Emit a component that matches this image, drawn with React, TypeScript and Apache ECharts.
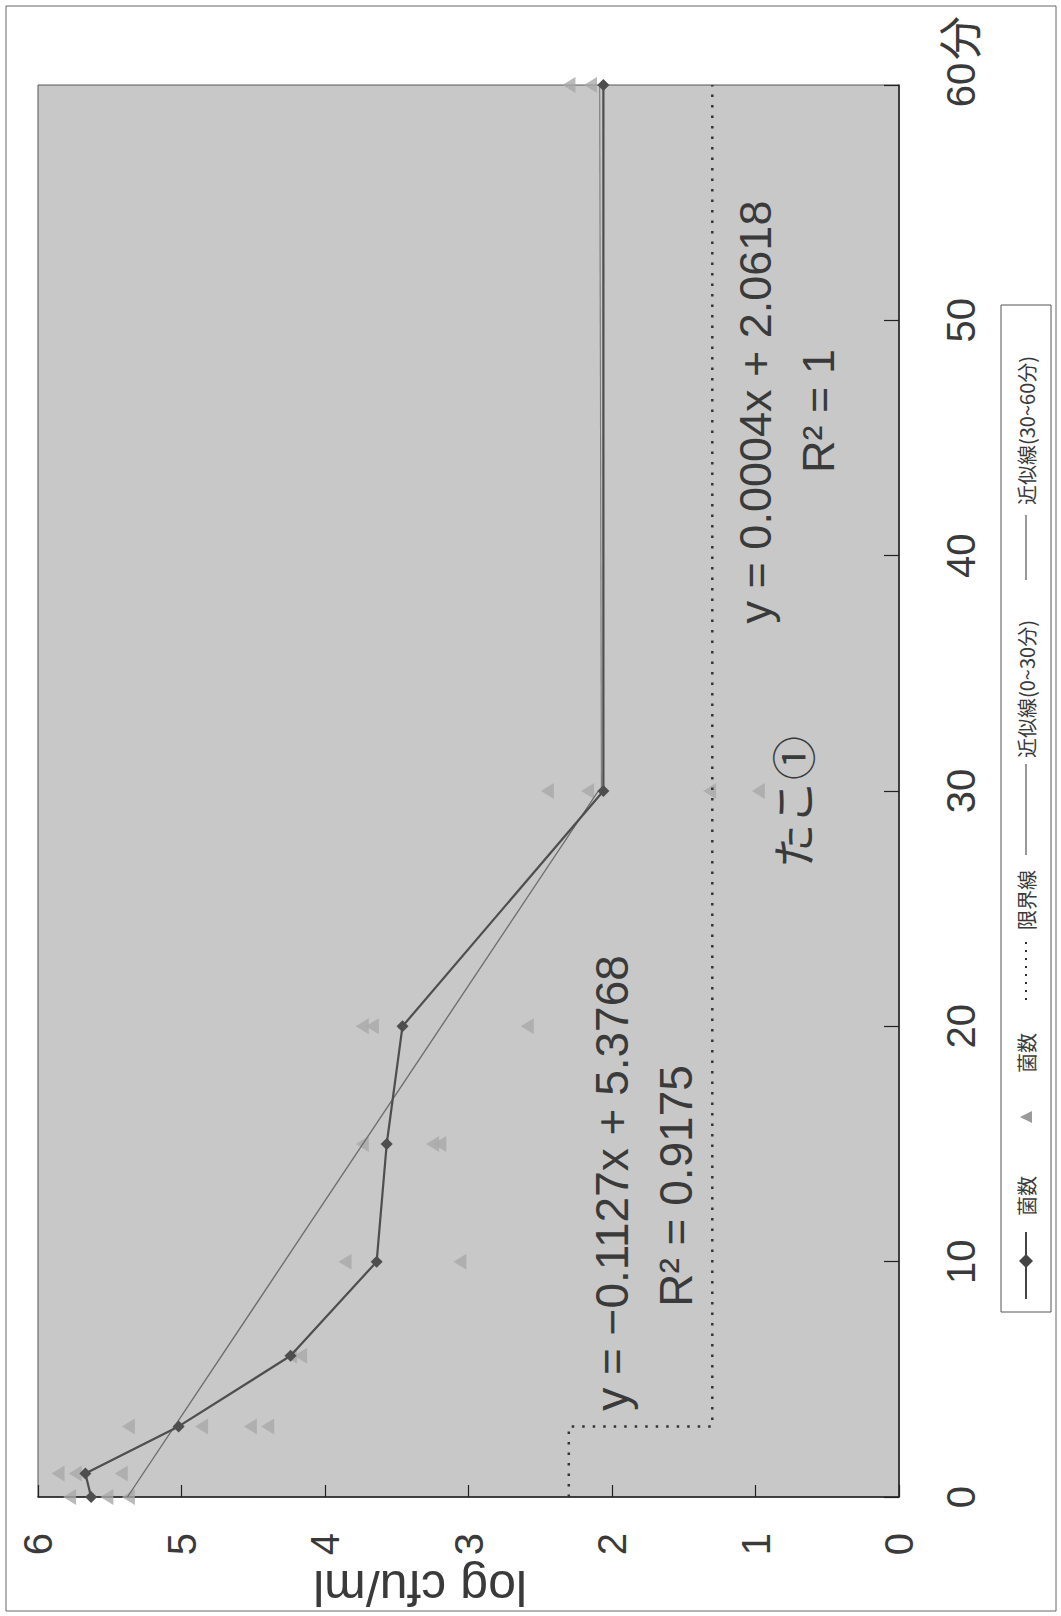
import React, { useEffect, useRef } from "react";
import * as echarts from "echarts";

// ---- data (minutes, log cfu/ml) ----
const minuteTicks = [0, 10, 20, 30, 40, 50, 60];
const logTicks = [0, 1, 2, 3, 4, 5, 6];

const meanMinutes = [0, 1, 3, 6, 10, 15, 20, 30, 60];
const meanLog = [5.63, 5.67, 5.02, 4.24, 3.64, 3.57, 3.46, 2.06, 2.06];

const repMinutes = [0, 0, 0, 1, 1, 1, 3, 3, 3, 3, 6, 6, 10, 10, 15, 15, 15, 20, 20, 20, 30, 30, 30, 30, 60, 60];
const repLog = [5.78, 5.52, 5.37, 5.86, 5.74, 5.42, 5.37, 4.86, 4.52, 4.4, 4.24, 4.17, 3.86, 3.06, 3.74, 3.25, 3.2, 3.74, 3.67, 2.59, 2.45, 2.17, 1.32, 0.98, 2.3, 2.15];

const limitMinutes = [0, 3, 3, 60];
const limitLog = [2.301, 2.301, 1.301, 1.301];

const fit1Minutes = [0, 30];
const fit1Log = [5.3768, 2.0958];
const fit2Minutes = [30, 60];
const fit2Log = [2.0738, 2.0858];

const eq1 = "y = \u22120.1127x + 5.3768";
const r1 = "R\u00b2 = 0.9175";
const eq2 = "y = 0.0004x + 2.0618";
const r2 = "R\u00b2 = 1";
const titleText = "たこ①";
const legendNames = ["菌数", "菌数", "限界線", "近似線(0~30分)", "近似線(30~60分)"];

const pairs = (xs: number[], ys: number[]) => xs.map((m, i) => [ys[i], m]);

const LATIN = "'Liberation Sans', Arial, sans-serif";
const CJK = "'Noto Sans CJK JP', sans-serif";
const TXT = "#3a3a3a";

function vText(text: string, x: number, y: number, fontSize: number, fontFamily: string, rotation = Math.PI / 2) {
  return {
    type: "text",
    x,
    y,
    rotation,
    z: 100,
    style: {
      text,
      fontSize,
      fontFamily,
      fill: TXT,
      align: "center",
      verticalAlign: "middle",
      textAlign: "center",
      textVerticalAlign: "middle",
    },
  };
}

function lText(text: string, x: number) {
  return {
    type: "text",
    x,
    y: 0,
    style: {
      text,
      fontSize: 20,
      fontFamily: CJK,
      fill: TXT,
      align: "left",
      verticalAlign: "middle",
      textAlign: "left",
      textVerticalAlign: "middle",
    },
  };
}

export default function App() {
  const ref = useRef<HTMLDivElement>(null);
  useEffect(() => {
    if (!ref.current) return;
    const chart = echarts.init(ref.current, null, { renderer: "svg" });
    const option: any = {
      animation: false,
      backgroundColor: "#ffffff",
      grid: {
        left: 38,
        right: 162,
        top: 85,
        bottom: 119,
        show: true,
        backgroundColor: "#c8c8c8",
        borderColor: "#555",
        borderWidth: 1,
      },
      xAxis: {
        type: "value",
        min: logTicks[0],
        max: logTicks[logTicks.length - 1],
        interval: 1,
        inverse: true,
        position: "bottom",
        axisLine: { show: true, lineStyle: { color: "#222", width: 1.5 } },
        axisTick: { show: true, inside: true, length: 12, lineStyle: { color: "#222", width: 1.2 } },
        splitLine: { show: false },
        axisLabel: { rotate: 90, margin: 36, fontSize: 40, fontFamily: LATIN, color: TXT },
      },
      yAxis: {
        type: "value",
        min: minuteTicks[0],
        max: minuteTicks[minuteTicks.length - 1],
        interval: 10,
        position: "right",
        axisLine: { show: true, lineStyle: { color: "#222", width: 1.5 } },
        axisTick: { show: true, inside: true, length: 15, lineStyle: { color: "#222", width: 1.2 } },
        splitLine: { show: false },
        axisLabel: { rotate: 90, margin: 42, fontSize: 40, fontFamily: LATIN, color: TXT },
      },
      series: [
        {
          name: legendNames[1],
          type: "scatter",
          data: pairs(repMinutes, repLog),
          symbol: "triangle",
          symbolRotate: 90,
          symbolSize: [16, 13],
          itemStyle: { color: "#a9a9a9" },
          z: 1,
        },
        {
          name: legendNames[2],
          type: "line",
          data: pairs(limitMinutes, limitLog),
          showSymbol: false,
          symbol: "none",
          lineStyle: { color: "#333", width: 2.5, type: [2.5, 8] },
          z: 2,
        },
        {
          name: legendNames[3],
          type: "line",
          data: pairs(fit1Minutes, fit1Log),
          symbol: "none",
          lineStyle: { color: "#6a6a6a", width: 1.3 },
          z: 3,
        },
        {
          name: legendNames[4],
          type: "line",
          data: pairs(fit2Minutes, fit2Log),
          symbol: "none",
          lineStyle: { color: "#7a7a7a", width: 1.1 },
          z: 3,
        },
        {
          name: legendNames[0],
          type: "line",
          data: pairs(meanMinutes, meanLog),
          symbol: "diamond",
          symbolSize: 12,
          itemStyle: { color: "#4e4e4e" },
          lineStyle: { color: "#4e4e4e", width: 2.2 },
          clip: false,
          z: 4,
        },
      ],
      graphic: [
        {
          type: "rect",
          shape: { x: 6, y: 6, width: 1050, height: 1605 },
          style: { fill: "none", stroke: "#666", lineWidth: 1 },
          silent: true,
        },
        vText(titleText, 792, 802, 44, CJK),
        vText(eq1, 612, 1183, 46, LATIN),
        vText(r1, 676, 1186, 46, LATIN),
        vText(eq2, 755, 412, 45, LATIN),
        vText(r2, 818, 411, 45, LATIN),
        vText("分", 958, 38, 44, CJK),
        vText("log cfu/ml", 420, 1588, 50, LATIN, Math.PI),
        {
          type: "group",
          x: 1026,
          y: 1312,
          rotation: Math.PI / 2,
          children: [
            {
              type: "rect",
              shape: { x: 0, y: -25, width: 1007, height: 50 },
              style: { fill: "#fff", stroke: "#555", lineWidth: 1 },
            },
            { type: "line", shape: { x1: 13, y1: 0, x2: 80, y2: 0 }, style: { stroke: "#444", lineWidth: 2 } },
            {
              type: "polygon",
              shape: { points: [[51, -7], [58, 0], [51, 7], [44, 0]] },
              style: { fill: "#444" },
            },
            lText(legendNames[0], 96),
            {
              type: "polygon",
              shape: { points: [[189, 6], [201, 6], [195, -6]] },
              style: { fill: "#9a9a9a" },
            },
            lText(legendNames[1], 239),
            {
              type: "line",
              shape: { x1: 312, y1: 0, x2: 376, y2: 0 },
              style: { stroke: "#333", lineWidth: 2, lineDash: [2, 6] },
            },
            lText(legendNames[2], 382),
            { type: "line", shape: { x1: 457, y1: 0, x2: 548, y2: 0 }, style: { stroke: "#555", lineWidth: 1.2 } },
            lText(legendNames[3], 554),
            { type: "line", shape: { x1: 732, y1: 0, x2: 797, y2: 0 }, style: { stroke: "#555", lineWidth: 1.2 } },
            lText(legendNames[4], 807),
          ],
        },
      ],
    };
    chart.setOption(option);
    return () => chart.dispose();
  }, []);
  return (
    <div
      ref={ref}
      style={{ position: "absolute", left: 0, top: 0, width: 1061, height: 1616, background: "#fff" }}
    />
  );
}
